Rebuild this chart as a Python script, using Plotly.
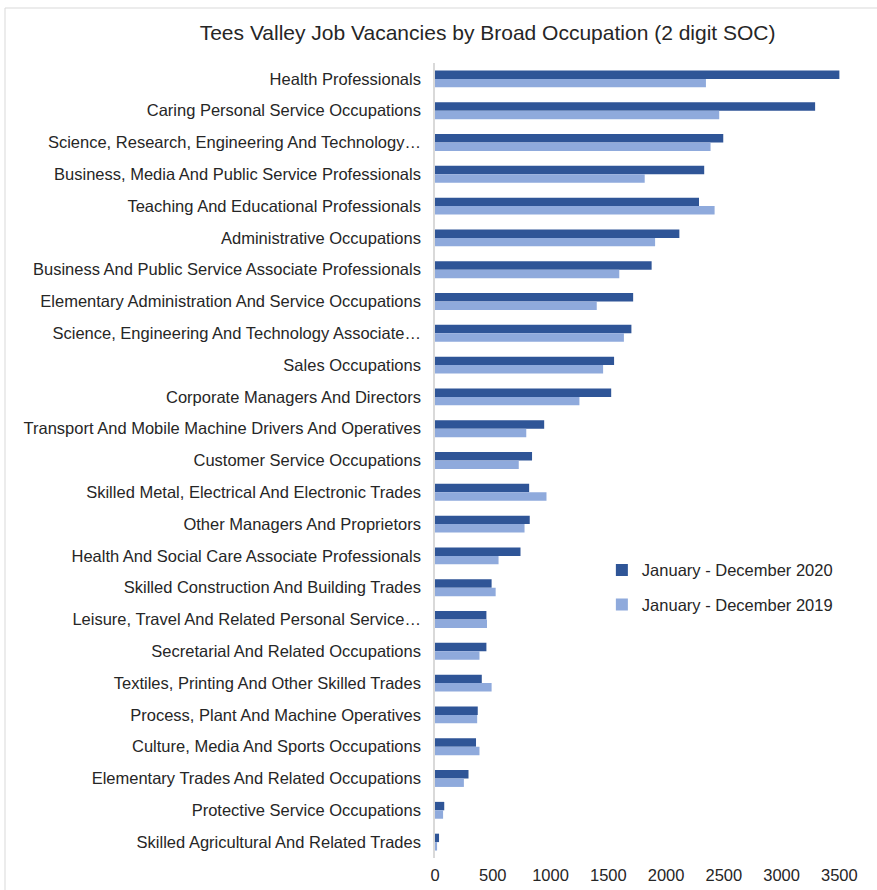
import plotly.graph_objects as go

occupations = [
    "Health Professionals",
    "Caring Personal Service Occupations",
    "Science, Research, Engineering And Technology…",
    "Business, Media And Public Service Professionals",
    "Teaching And Educational Professionals",
    "Administrative Occupations",
    "Business And Public Service Associate Professionals",
    "Elementary Administration And Service Occupations",
    "Science, Engineering And Technology Associate…",
    "Sales Occupations",
    "Corporate Managers And Directors",
    "Transport And Mobile Machine Drivers And Operatives",
    "Customer Service Occupations",
    "Skilled Metal, Electrical And Electronic Trades",
    "Other Managers And Proprietors",
    "Health And Social Care Associate Professionals",
    "Skilled Construction And Building Trades",
    "Leisure, Travel And Related Personal Service…",
    "Secretarial And Related Occupations",
    "Textiles, Printing And Other Skilled Trades",
    "Process, Plant And Machine Operatives",
    "Culture, Media And Sports Occupations",
    "Elementary Trades And Related Occupations",
    "Protective Service Occupations",
    "Skilled Agricultural And Related Trades",
]

vacancies_2020 = [3500, 3290, 2495, 2330, 2285, 2115, 1875, 1715, 1700, 1550,
                  1525, 945, 840, 815, 820, 740, 490, 445, 445, 405,
                  370, 355, 290, 80, 35]
vacancies_2019 = [2345, 2460, 2385, 1815, 2420, 1905, 1595, 1400, 1635, 1455,
                  1250, 790, 725, 965, 775, 550, 525, 450, 385, 490,
                  365, 385, 250, 70, 18]

series_names = ["January - December 2020", "January - December 2019"]
series_colors = ["#2F5597", "#8FAADC"]
x_ticks = [0, 500, 1000, 1500, 2000, 2500, 3000, 3500]

text_color = "#262626"
font_family = "Liberation Sans, Arial, sans-serif"
label_size = 16.5

W, H = 877, 890
M_L, M_R, M_T, M_B = 435, 33, 63, 32

fig = go.Figure()
for name, values, color, group in zip(series_names, [vacancies_2020, vacancies_2019],
                                      series_colors, ["a", "b"]):
    fig.add_trace(go.Bar(
        y=occupations,
        x=values,
        name=name,
        orientation="h",
        legendgroup=group,
        marker=dict(color=color, line=dict(width=0)),
    ))

# light frame along the top and left edges of the chart area
plot_w = W - M_L - M_R
plot_h = H - M_T - M_B
top_y = (H - M_B - 8) / plot_h
left_x = (5 - M_L) / plot_w
frame = [
    dict(type="line", xref="paper", yref="paper",
         x0=left_x, x1=(W - M_L) / plot_w, y0=top_y, y1=top_y,
         line=dict(color="#D9D9D9", width=1)),
    dict(type="line", xref="paper", yref="paper",
         x0=left_x, x1=left_x, y0=top_y, y1=-M_B / plot_h,
         line=dict(color="#D9D9D9", width=1)),
]

fig.update_layout(
    width=W,
    height=H,
    paper_bgcolor="white",
    plot_bgcolor="white",
    barmode="group",
    bargap=0.47,
    bargroupgap=0,
    margin=dict(l=M_L, r=M_R, t=M_T, b=M_B, autoexpand=False),
    font=dict(family=font_family, size=label_size, color=text_color),
    title=dict(
        text="Tees Valley Job Vacancies by Broad Occupation (2 digit SOC)",
        x=0.556,
        xanchor="center",
        y=0.9635,
        yanchor="middle",
        font=dict(family=font_family, size=21, color=text_color),
    ),
    xaxis=dict(
        range=[0, 3540],
        tickvals=x_ticks,
        ticktext=[str(v) for v in x_ticks],
        showgrid=False,
        zeroline=False,
        showline=False,
        automargin=False,
        ticks="outside",
        ticklen=2,
        tickcolor="rgba(0,0,0,0)",
        tickfont=dict(size=label_size, color=text_color),
    ),
    yaxis=dict(
        autorange="reversed",
        showgrid=False,
        zeroline=False,
        showline=True,
        automargin=False,
        linecolor="#D9D9D9",
        linewidth=1.5,
        ticks="",
        ticklabelstandoff=9,
        tickfont=dict(size=label_size, color=text_color),
    ),
    legend=dict(
        x=0.408,
        y=0.384,
        xanchor="left",
        yanchor="top",
        traceorder="grouped",
        tracegroupgap=10,
        font=dict(size=label_size, color=text_color),
        bgcolor="rgba(0,0,0,0)",
    ),
    shapes=frame,
)

fig.write_html("out.html")
